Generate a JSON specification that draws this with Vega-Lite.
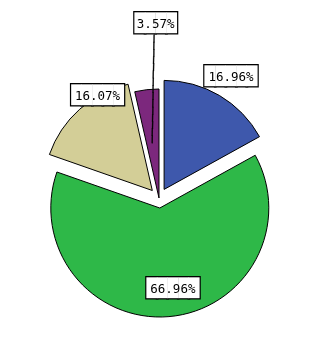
{
  "$schema": "https://vega.github.io/schema/vega-lite/v6.json",
  "width": 308,
  "height": 282,
  "padding": {"left": 5, "top": 57, "right": 0, "bottom": 0},
  "autosize": {"type": "none"},
  "background": "white",
  "config": {"view": {"stroke": null}},
  "data": {"values": [
    {"cat": "1", "value": 16.96, "label": "16.96%"},
    {"cat": "2", "value": 63.39, "label": "66.96%"},
    {"cat": "3", "value": 16.07, "label": "16.07%"},
    {"cat": "4", "value": 3.57, "label": "3.57%"}
  ]},
  "encoding": {
    "theta": {"field": "value", "type": "quantitative", "stack": true, "scale": {"domain": [0, 99.99]}},
    "order": {"field": "cat", "type": "ordinal"}
  },
  "layer": [
    {"mark": {"type": "arc", "outerRadius": 109, "stroke": "black", "strokeWidth": 1, "xOffset": 5.1, "yOffset": -8.6},
     "encoding": {"color": {"field": "cat", "type": "nominal", "legend": null, "scale": {"domain": ["1", "2", "3", "4"], "range": ["#3E58AC", "#2EB848", "#D3CE97", "#7C287D"]}},
                  "opacity": {"condition": {"test": "datum.cat === '1'", "value": 1}, "value": 0}}},
    {"mark": {"type": "arc", "outerRadius": 109, "stroke": "black", "strokeWidth": 1, "xOffset": 0.8, "yOffset": 10},
     "encoding": {"color": {"field": "cat", "type": "nominal", "legend": null, "scale": {"domain": ["1", "2", "3", "4"], "range": ["#3E58AC", "#2EB848", "#D3CE97", "#7C287D"]}},
                  "opacity": {"condition": {"test": "datum.cat === '2'", "value": 1}, "value": 0}}},
    {"mark": {"type": "arc", "outerRadius": 109, "stroke": "black", "strokeWidth": 1, "xOffset": -6.7, "yOffset": -7.5},
     "encoding": {"color": {"field": "cat", "type": "nominal", "legend": null, "scale": {"domain": ["1", "2", "3", "4"], "range": ["#3E58AC", "#2EB848", "#D3CE97", "#7C287D"]}},
                  "opacity": {"condition": {"test": "datum.cat === '3'", "value": 1}, "value": 0}}},
    {"mark": {"type": "arc", "outerRadius": 109, "stroke": "black", "strokeWidth": 1},
     "encoding": {"color": {"field": "cat", "type": "nominal", "legend": null, "scale": {"domain": ["1", "2", "3", "4"], "range": ["#3E58AC", "#2EB848", "#D3CE97", "#7C287D"]}},
                  "opacity": {"condition": {"test": "datum.cat === '4'", "value": 1}, "value": 0}}},
    {"mark": {"type": "text", "radius": 109.2, "angle": 91, "font": "DejaVu Sans Mono", "fontSize": 12, "fill": "black", "stroke": "black", "strokeWidth": 0.35, "blend": "multiply", "align": "center", "baseline": "middle"},
     "encoding": {"theta": {"field": "value", "type": "quantitative", "stack": true, "bandPosition": 0.756, "scale": {"domain": [0, 99.99]}},
                  "text": {"condition": {"test": "datum.cat === '4'", "value": "───────────────"}, "value": ""}}},

    {"mark": {"type": "text", "radius": 140.4, "font": "DejaVu Sans Mono", "fontSize": 17.5, "fill": "black", "stroke": "black", "strokeWidth": 2.5, "blend": "multiply", "align": "center", "baseline": "middle"},
     "encoding": {"theta": {"field": "value", "type": "quantitative", "stack": true, "bandPosition": 0.505, "scale": {"domain": [0, 99.99]}},
                  "text": {"condition": {"test": "datum.cat === '1'", "value": "█████"}, "value": ""}}},
    {"mark": {"type": "text", "radius": 140.4, "font": "DejaVu Sans Mono", "fontSize": 17.5, "fill": "white", "blend": "screen", "align": "center", "baseline": "middle"},
     "encoding": {"theta": {"field": "value", "type": "quantitative", "stack": true, "bandPosition": 0.505, "scale": {"domain": [0, 99.99]}},
                  "text": {"condition": {"test": "datum.cat === '1'", "value": "█████"}, "value": ""}}},
    {"mark": {"type": "text", "radius": 140.4, "font": "DejaVu Sans Mono", "fontSize": 12.5, "fill": "black", "align": "center", "baseline": "middle"},
     "encoding": {"theta": {"field": "value", "type": "quantitative", "stack": true, "bandPosition": 0.505, "scale": {"domain": [0, 99.99]}},
                  "text": {"condition": {"test": "datum.cat === '1'", "field": "label"}, "value": ""}}},

    {"mark": {"type": "text", "radius": 91.6, "font": "DejaVu Sans Mono", "fontSize": 17.5, "fill": "black", "stroke": "black", "strokeWidth": 2.5, "blend": "multiply", "align": "center", "baseline": "middle"},
     "encoding": {"theta": {"field": "value", "type": "quantitative", "stack": true, "bandPosition": 0.483, "scale": {"domain": [0, 99.99]}},
                  "text": {"condition": {"test": "datum.cat === '2'", "value": "█████"}, "value": ""}}},
    {"mark": {"type": "text", "radius": 91.6, "font": "DejaVu Sans Mono", "fontSize": 17.5, "fill": "white", "blend": "screen", "align": "center", "baseline": "middle"},
     "encoding": {"theta": {"field": "value", "type": "quantitative", "stack": true, "bandPosition": 0.483, "scale": {"domain": [0, 99.99]}},
                  "text": {"condition": {"test": "datum.cat === '2'", "value": "█████"}, "value": ""}}},
    {"mark": {"type": "text", "radius": 91.6, "font": "DejaVu Sans Mono", "fontSize": 12.5, "fill": "black", "align": "center", "baseline": "middle"},
     "encoding": {"theta": {"field": "value", "type": "quantitative", "stack": true, "bandPosition": 0.483, "scale": {"domain": [0, 99.99]}},
                  "text": {"condition": {"test": "datum.cat === '2'", "field": "label"}, "value": ""}}},

    {"mark": {"type": "text", "radius": 118.7, "font": "DejaVu Sans Mono", "fontSize": 17.5, "fill": "black", "stroke": "black", "strokeWidth": 2.5, "blend": "multiply", "align": "center", "baseline": "middle"},
     "encoding": {"theta": {"field": "value", "type": "quantitative", "stack": true, "bandPosition": 0.683, "scale": {"domain": [0, 99.99]}},
                  "text": {"condition": {"test": "datum.cat === '3'", "value": "█████"}, "value": ""}}},
    {"mark": {"type": "text", "radius": 118.7, "font": "DejaVu Sans Mono", "fontSize": 17.5, "fill": "white", "blend": "screen", "align": "center", "baseline": "middle"},
     "encoding": {"theta": {"field": "value", "type": "quantitative", "stack": true, "bandPosition": 0.683, "scale": {"domain": [0, 99.99]}},
                  "text": {"condition": {"test": "datum.cat === '3'", "value": "█████"}, "value": ""}}},
    {"mark": {"type": "text", "radius": 118.7, "font": "DejaVu Sans Mono", "fontSize": 12.5, "fill": "black", "align": "center", "baseline": "middle"},
     "encoding": {"theta": {"field": "value", "type": "quantitative", "stack": true, "bandPosition": 0.683, "scale": {"domain": [0, 99.99]}},
                  "text": {"condition": {"test": "datum.cat === '3'", "field": "label"}, "value": ""}}},

    {"mark": {"type": "text", "radius": 174, "font": "DejaVu Sans Mono", "fontSize": 17.5, "fill": "black", "stroke": "black", "strokeWidth": 2.5, "blend": "multiply", "align": "center", "baseline": "middle"},
     "encoding": {"theta": {"field": "value", "type": "quantitative", "stack": true, "bandPosition": 0.914, "scale": {"domain": [0, 99.99]}},
                  "text": {"condition": {"test": "datum.cat === '4'", "value": "████"}, "value": ""}}},
    {"mark": {"type": "text", "radius": 174, "font": "DejaVu Sans Mono", "fontSize": 17.5, "fill": "white", "blend": "screen", "align": "center", "baseline": "middle"},
     "encoding": {"theta": {"field": "value", "type": "quantitative", "stack": true, "bandPosition": 0.914, "scale": {"domain": [0, 99.99]}},
                  "text": {"condition": {"test": "datum.cat === '4'", "value": "████"}, "value": ""}}},
    {"mark": {"type": "text", "radius": 174, "font": "DejaVu Sans Mono", "fontSize": 12.5, "fill": "black", "align": "center", "baseline": "middle"},
     "encoding": {"theta": {"field": "value", "type": "quantitative", "stack": true, "bandPosition": 0.914, "scale": {"domain": [0, 99.99]}},
                  "text": {"condition": {"test": "datum.cat === '4'", "field": "label"}, "value": ""}}}
  ]
}
